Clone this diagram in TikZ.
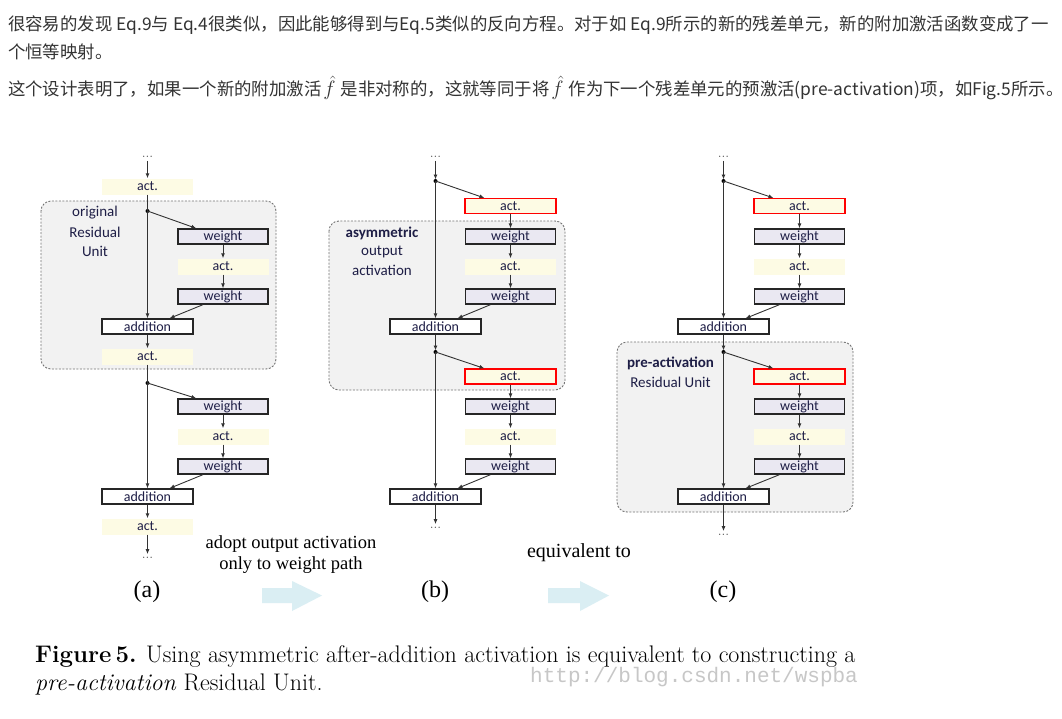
\documentclass[tikz,border=0pt]{standalone}
\usepackage{fontspec}
\usetikzlibrary{arrows.meta,calc}
\newfontfamily\cjk{Noto Sans CJK SC}
\newfontfamily\carl{Carlito}
\newfontfamily\tms{Liberation Serif}
\newfontfamily\wmono{Liberation Mono}
\definecolor{actfill}{RGB}{253,251,228}
\definecolor{wfill}{RGB}{234,232,242}
\definecolor{grpfill}{RGB}{242,242,242}
\definecolor{boxtext}{RGB}{30,30,70}
\definecolor{lblue}{RGB}{218,238,243}
\definecolor{cjktext}{RGB}{51,51,51}
\newcommand{\fhat}{\hspace{2pt}{\fontsize{20}{20}\selectfont$\hat{f}$}\hspace{5pt}}
\begin{document}
\begin{tikzpicture}[x=1pt,y=-1pt,
  box/.style={minimum width=91pt,minimum height=16pt,inner sep=0pt,font=\carl\fontsize{14}{14}\selectfont,text=boxtext},
  actbox/.style={box,fill=actfill},
  ractbox/.style={box,fill=actfill,draw=red,line width=1.1pt,minimum height=15pt},
  wbox/.style={box,fill=wfill,draw=black!85,line width=1.3pt,minimum width=90pt,minimum height=15pt},
  addbox/.style={box,fill=white,draw=black!85,line width=1.3pt,minimum height=15pt},
  conn/.style={draw=black!80,line width=0.9pt,-{Latex[length=5pt,width=4pt]}},
  plainln/.style={draw=black!80,line width=0.9pt},
  dotn/.style={circle,fill=black,inner sep=0pt,minimum size=4pt},
  dotsn/.style={inner sep=3pt,font=\fontsize{14}{14}\selectfont,text=black!65},
  grp/.style={fill=grpfill,draw=black!55,dash pattern=on 2pt off 1.5pt,line width=0.9pt,rounded corners=10pt},
  glabel/.style={font=\carl\fontsize{15}{15}\selectfont,text=boxtext,inner sep=0pt},
  cjkline/.style={anchor=west,inner sep=0pt,font=\cjk\fontsize{17.4}{17.4}\selectfont,text=cjktext},
  tmslabel/.style={font=\tms\fontsize{18.5}{18.5}\selectfont,inner sep=0pt},
  sublabel/.style={font=\tms\fontsize{24}{24}\selectfont,inner sep=0pt},
]
\useasboundingbox (0,0) rectangle (1062,718);
\fill[white] (0,0) rectangle (1062,718);

% ---------- Chinese text ----------
\node[cjkline] (t1) at (8,25) {很容易的发现 Eq.9与 Eq.4很类似，因此能够得到与Eq.5类似的反向方程。对于如 Eq.9所示的新的残差单元，新的附加激活函数变成了一};
\node[cjkline] (t2) at (8,52) {个恒等映射。};
\node[cjkline] (t3) at (8,88) {这个设计表明了，如果一个新的附加激活\fhat 是非对称的，这就等同于将\fhat 作为下一个残差单元的预激活(pre-activation)项，如Fig.5所示。};

% ---------- group boxes ----------
\draw[grp] (41,201) rectangle (276,369);
\draw[grp] (329,221) rectangle (565,390);
\draw[grp] (617,342) rectangle (853,512);

% ---------- (a) ----------
\node[glabel] (la1) at (95,213) {original};
\node[glabel] (la2) at (95,232) {Residual};
\node[glabel] (la3) at (95,251) {Unit};
\node[dotsn] (a0) at (147.5,157) {...};
\node[actbox] (a1) at (147.5,186.5) {act.};
\coordinate (ad1) at (147.5,211);
\node[wbox] (a2) at (223,236.5) {weight};
\node[actbox] (a3) at (223,266.5) {act.};
\node[wbox] (a4) at (223,296.5) {weight};
\node[addbox] (a5) at (147.5,326.5) {addition};
\node[actbox] (a6) at (147.5,356.5) {act.};
\coordinate (ad2) at (147.5,383);
\node[wbox] (a7) at (223,406.5) {weight};
\node[actbox] (a8) at (223,436.5) {act.};
\node[wbox] (a9) at (223,466.5) {weight};
\node[addbox] (a10) at (147.5,496.5) {addition};
\node[actbox] (a11) at (147.5,526.5) {act.};
\node[dotsn] (a12) at (147.5,558) {...};
\node[dotn] at (ad1) {};
\node[dotn] at (ad2) {};
\draw[conn] (a0) -- (a1);
\draw[plainln] (a1) -- (ad1);
\draw[conn] (ad1) -- (a5);
\draw[conn] (ad1) -- ($(a2.north west)+(19,0)$);
\draw[conn] (a2) -- (a3);
\draw[conn] (a3) -- (a4);
\draw[conn] ($(a4.south)+(-20,0)$) -- ($(a5.north)+(22,0)$);
\draw[conn] (a5) -- (a6);
\draw[plainln] (a6) -- (ad2);
\draw[conn] (ad2) -- (a10);
\draw[conn] (ad2) -- ($(a7.north west)+(19,0)$);
\draw[conn] (a7) -- (a8);
\draw[conn] (a8) -- (a9);
\draw[conn] ($(a9.south)+(-20,0)$) -- ($(a10.north)+(22,0)$);
\draw[conn] (a10) -- (a11);
\draw[conn] (a11) -- (a12);

% ---------- (b) ----------
\node[glabel,font=\carl\bfseries\fontsize{15}{15}\selectfont] (lb1) at (382,233) {asymmetric};
\node[glabel] (lb2) at (382,252) {output};
\node[glabel] (lb3) at (382,270) {activation};
\node[dotsn] (b0) at (435.5,157) {...};
\coordinate (bd1) at (435.5,181);
\node[ractbox] (b1) at (510.5,206) {act.};
\node[wbox] (b2) at (510.5,236.5) {weight};
\node[actbox] (b3) at (510.5,266.5) {act.};
\node[wbox] (b4) at (510.5,296.5) {weight};
\node[addbox] (b5) at (435.5,326.5) {addition};
\coordinate (bd2) at (435.5,352);
\node[ractbox] (b6) at (510.5,376.5) {act.};
\node[wbox] (b7) at (510.5,406.5) {weight};
\node[actbox] (b8) at (510.5,436.5) {act.};
\node[wbox] (b9) at (510.5,466.5) {weight};
\node[addbox] (b10) at (435.5,496.5) {addition};
\node[dotsn] (b11) at (435.5,528) {...};
\node[dotn] at (bd1) {};
\node[dotn] at (bd2) {};
\draw[conn,shorten >=1.5pt] (b0) -- (bd1);
\draw[conn] (bd1) -- (b5);
\draw[conn] (bd1) -- ($(b1.north west)+(20,0)$);
\draw[conn] (b1) -- (b2);
\draw[conn] (b2) -- (b3);
\draw[conn] (b3) -- (b4);
\draw[conn] ($(b4.south)+(-20,0)$) -- ($(b5.north)+(22,0)$);
\draw[conn,shorten >=1.5pt] (b5) -- (bd2);
\draw[conn] (bd2) -- (b10);
\draw[conn] (bd2) -- ($(b6.north west)+(20,0)$);
\draw[conn] (b6) -- (b7);
\draw[conn] (b7) -- (b8);
\draw[conn] (b8) -- (b9);
\draw[conn] ($(b9.south)+(-20,0)$) -- ($(b10.north)+(22,0)$);
\draw[conn] (b10) -- (b11);

% ---------- (c) ----------
\node[glabel,font=\carl\bfseries\fontsize{15}{15}\selectfont] (lc1) at (670.5,363) {pre-activation};
\node[glabel] (lc2) at (670.5,382) {Residual Unit};
\node[dotsn] (c0) at (723.5,157) {...};
\coordinate (cd1) at (723.5,181);
\node[ractbox] (c1) at (799.5,206) {act.};
\node[wbox] (c2) at (799.5,236.5) {weight};
\node[actbox] (c3) at (799.5,266.5) {act.};
\node[wbox] (c4) at (799.5,296.5) {weight};
\node[addbox] (c5) at (723.5,326.5) {addition};
\coordinate (cd2) at (723.5,352);
\node[ractbox] (c6) at (799.5,376.5) {act.};
\node[wbox] (c7) at (799.5,406.5) {weight};
\node[actbox] (c8) at (799.5,436.5) {act.};
\node[wbox] (c9) at (799.5,466.5) {weight};
\node[addbox] (c10) at (723.5,496.5) {addition};
\node[dotsn] (c11) at (723.5,535) {...};
\node[dotn] at (cd1) {};
\node[dotn] at (cd2) {};
\draw[conn,shorten >=1.5pt] (c0) -- (cd1);
\draw[conn] (cd1) -- (c5);
\draw[conn] (cd1) -- ($(c1.north west)+(20,0)$);
\draw[conn] (c1) -- (c2);
\draw[conn] (c2) -- (c3);
\draw[conn] (c3) -- (c4);
\draw[conn] ($(c4.south)+(-20,0)$) -- ($(c5.north)+(22,0)$);
\draw[conn,shorten >=1.5pt] (c5) -- (cd2);
\draw[conn] (cd2) -- (c10);
\draw[conn] (cd2) -- ($(c6.north west)+(20,0)$);
\draw[conn] (c6) -- (c7);
\draw[conn] (c7) -- (c8);
\draw[conn] (c8) -- (c9);
\draw[conn] ($(c9.south)+(-20,0)$) -- ($(c10.north)+(22,0)$);
\draw[conn] (c10) -- (c11);

% ---------- labels & arrows ----------
\node[tmslabel] (p1) at (291,544) {adopt output activation};
\node[tmslabel] (p2) at (291,565) {only to weight path};
\node[tmslabel,font=\tms\fontsize{20}{20}\selectfont] (p3) at (579,553) {equivalent to};
\node[sublabel] (sa) at (147,592) {(a)};
\node[sublabel] (sb) at (435,592) {(b)};
\node[sublabel] (sc) at (723,592) {(c)};
\fill[lblue] (262,588) -- (292,588) -- (292,581) -- (322,595.5) -- (292,611) -- (292,603) -- (262,603) -- cycle;
\fill[lblue] (548,588) -- (580,588) -- (580,581) -- (609,595.5) -- (580,611) -- (580,603) -- (548,603) -- cycle;

% ---------- caption ----------
\node[anchor=west,inner sep=0pt,font=\wmono\fontsize{21}{21}\selectfont,text=black!22] (wm) at (530,677) {http://blog.csdn.net/wspba};
\node[anchor=west,inner sep=0pt,font=\fontsize{24}{24}\selectfont] (cap1) at (35,657) {\textbf{Figure\,5.} Using asymmetric after-addition activation is equivalent to constructing a};
\node[anchor=west,inner sep=0pt,font=\fontsize{24}{24}\selectfont] (cap2) at (35,684) {\textit{pre-activation} Residual Unit.};
\end{tikzpicture}
\end{document}
